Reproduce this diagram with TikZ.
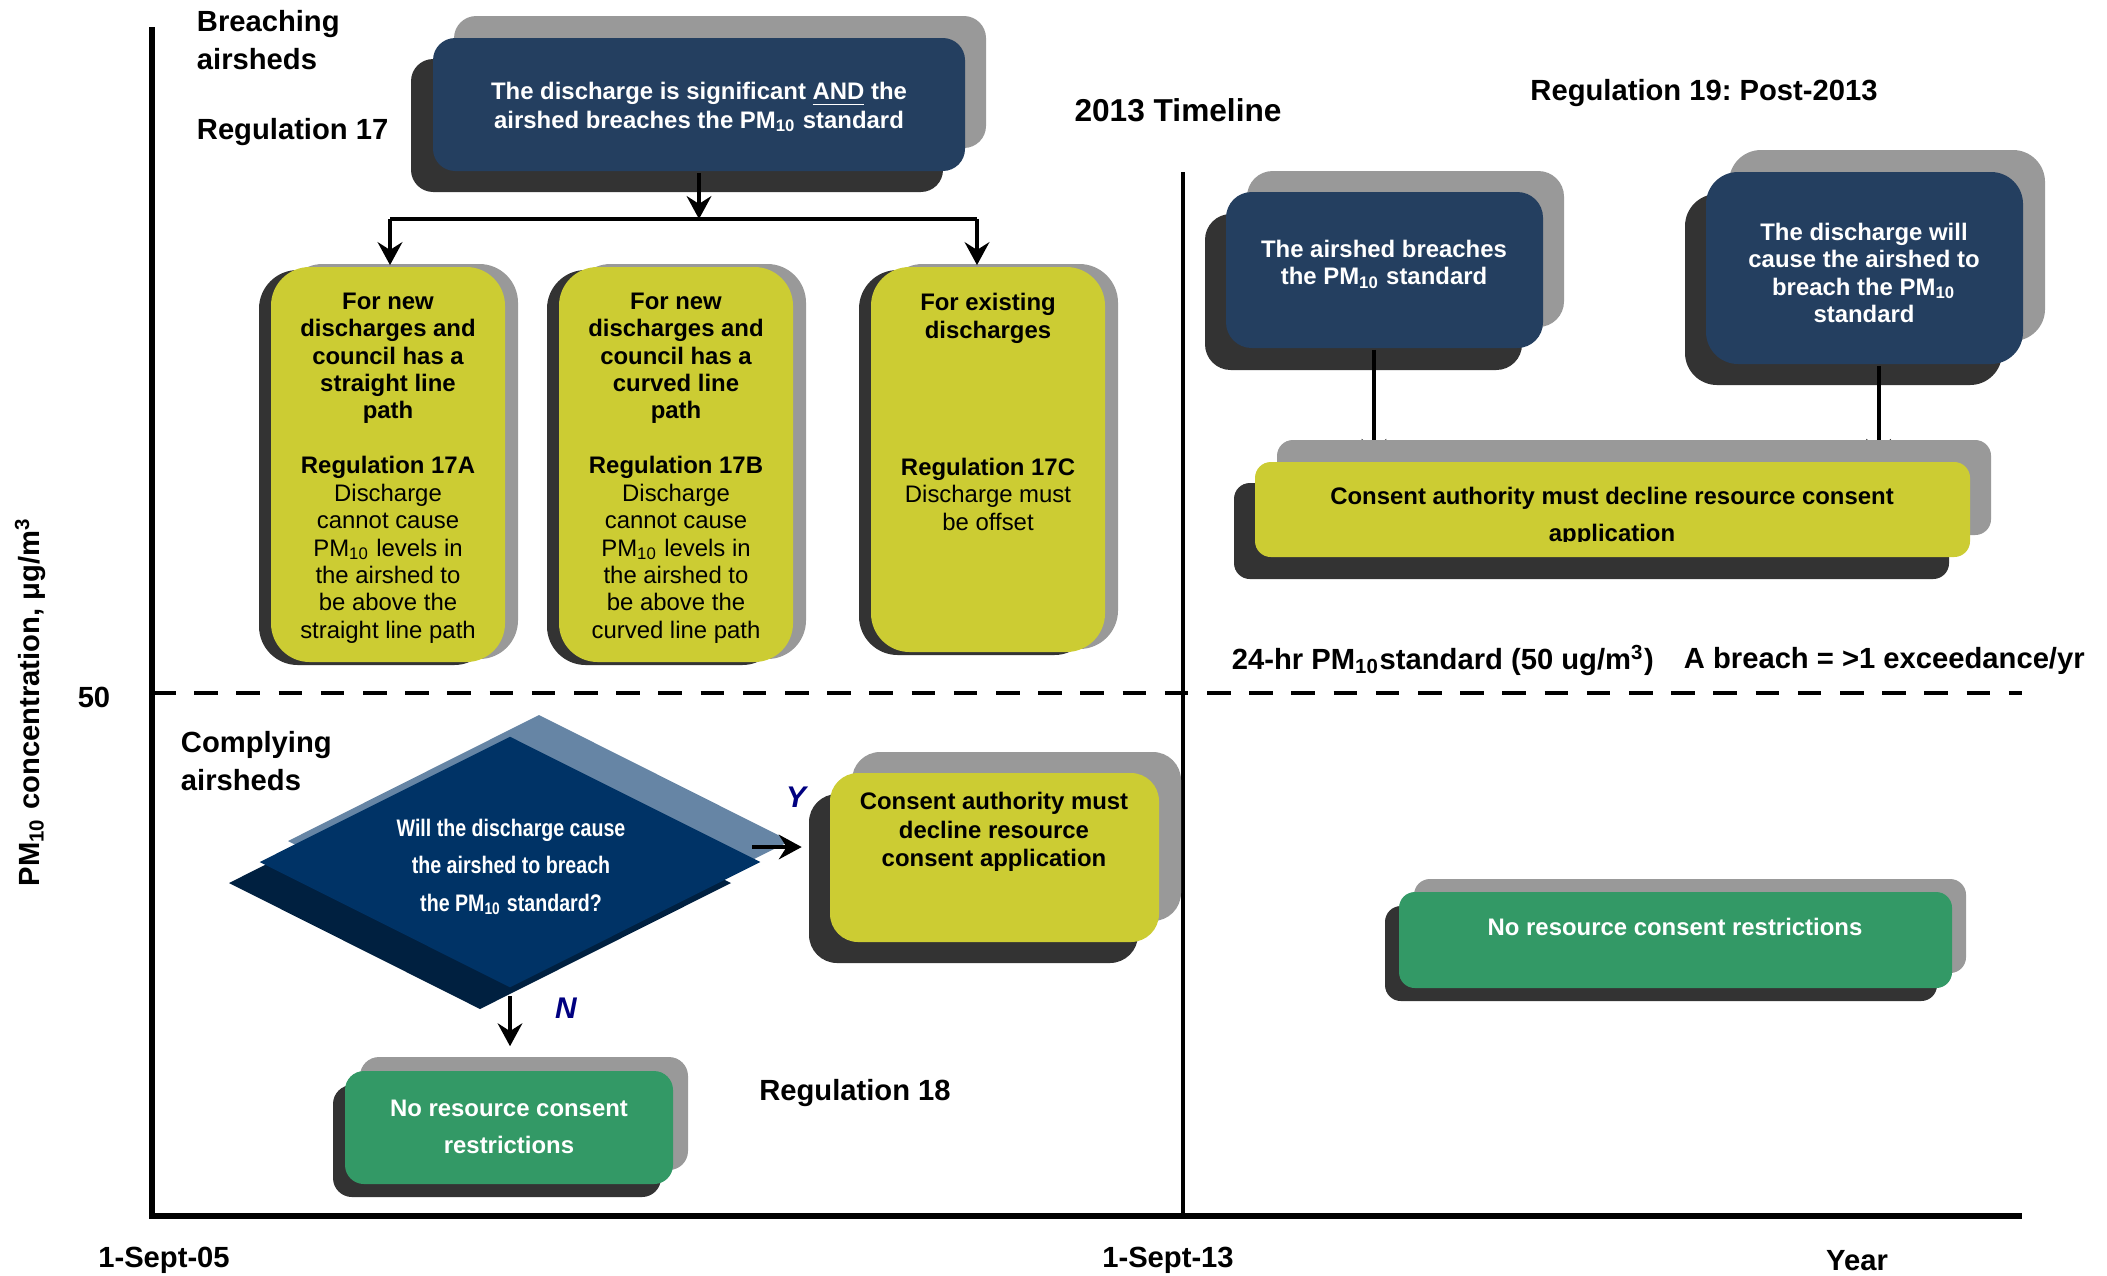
\documentclass[tikz,border=0pt]{standalone}
\usepackage{fontspec}
\setmainfont{Liberation Sans}
\newfontfamily\narrowsans[FakeStretch=0.82]{Liberation Sans}
\usetikzlibrary{arrows.meta,fit,shapes.geometric}

\definecolor{regnavy}{HTML}{243F60}
\definecolor{regyellow}{HTML}{CCCC33}
\definecolor{reggreen}{HTML}{339966}
\definecolor{shadelight}{HTML}{999999}
\definecolor{shadedark}{HTML}{333333}
\definecolor{askmain}{HTML}{003366}
\definecolor{asklight}{HTML}{6685A5}
\definecolor{askdark}{HTML}{002040}
\definecolor{ynblue}{HTML}{000080}

\newcommand{\pmten}{PM\textsubscript{10}}
\frenchspacing

\begin{document}
\begin{tikzpicture}[x=0.01cm, y=-0.01cm, line width=1.1pt,
  >={Stealth[length=6.5pt,width=7pt,inset=2.2pt]},
  lbl/.style={font=\bfseries\fontsize{8.3}{10.7}\selectfont, inner sep=0},
  txt/.style={font=\bfseries\fontsize{6.8}{7.8}\selectfont, align=center, inner sep=0},
  panel/.style={fill=#1, inner sep=0},
  yn/.style={font=\bfseries\itshape\fontsize{8.5}{10}\selectfont, text=ynblue, inner sep=0}]
\useasboundingbox (0,0) rectangle (2107,1275);

% axes
\draw[line width=1.8pt] (152,27) -- (152,1216) -- (2022,1216);
\draw[line width=1.3pt] (1183,172) -- (1183,1216);
\draw[line width=1.4pt, dash pattern=on 6.7pt off 5.3pt] (152,693) -- (2022,693);
\node[lbl] (fifty) at (94,697) {50};
\node[lbl, rotate=90] (ylab) at (30,702) {\pmten{} concentration, μg/m\textsuperscript{3}};
\node[lbl] (start) at (164,1260) {1-Sept-05};
\node[lbl] (mid) at (1168,1260) {1-Sept-13};
\node[lbl] (year) at (1857,1261) {Year};

% breaching airsheds, regulation 17
\node[lbl, align=left, anchor=west] (breaching) at (195,40) {Breaching\\airsheds};
\node[lbl, anchor=west] (reg17) at (195,132) {Regulation 17};

\fill[shadelight, rounded corners=6.3pt] (454,16) rectangle (986,148);
\fill[shadedark, rounded corners=6.3pt] (411,59) rectangle (943,192);
\node[panel=regnavy, rounded corners=6.3pt, fit={(433,38) (965,171)}] (signif) {};
\node[txt, text=white, font=\bfseries\fontsize{6.8}{8.1}\selectfont] (signiftext) at (699,107) {The discharge is significant \underline{AND} the\\airshed breaches the \pmten{} standard};

\fill[shadelight, rounded corners=11pt] (284,264) rectangle (518,659);
\fill[shadedark, rounded corners=11pt] (259,270) rectangle (493,665);
\node[panel=regyellow, rounded corners=11pt, fit={(271,267) (505,662)}] (regA) {};
\node[txt] (regAtext) at (388,468) {For new\\discharges and\\council has a\\straight line\\path\\[7.8pt]Regulation 17A\\\mdseries Discharge\\\mdseries cannot cause\\\mdseries \pmten{} levels in\\\mdseries the airshed to\\\mdseries be above the\\\mdseries straight line path};

\fill[shadelight, rounded corners=11pt] (572,264) rectangle (806,659);
\fill[shadedark, rounded corners=11pt] (547,270) rectangle (781,665);
\node[panel=regyellow, rounded corners=11pt, fit={(559,267) (793,662)}] (regB) {};
\node[txt] (regBtext) at (676,468) {For new\\discharges and\\council has a\\curved line\\path\\[7.8pt]Regulation 17B\\\mdseries Discharge\\\mdseries cannot cause\\\mdseries \pmten{} levels in\\\mdseries the airshed to\\\mdseries be above the\\\mdseries curved line path};

\fill[shadelight, rounded corners=11pt] (884,264) rectangle (1118,649);
\fill[shadedark, rounded corners=11pt] (859,270) rectangle (1093,655);
\node[panel=regyellow, rounded corners=11pt, fit={(871,267) (1105,652)}] (regC) {};
\node[txt] (regCtext) at (988,412) {For existing\\discharges\\[31.2pt]Regulation 17C\\\mdseries Discharge must\\\mdseries be offset};

\coordinate (split) at (699,219);
\coordinate (splitL) at (390,219);
\coordinate (splitR) at (977,219);
\draw[->] (signif.south) -- (split);
\draw[line width=1.3pt] (splitL) -- (splitR);
\draw[->] (splitL) -- (splitL |- regA.north);
\draw[->] (splitR) -- (splitR |- regC.north);

% complying airsheds, regulation 18
\node[lbl, align=left, anchor=west] (complying) at (179,761) {Complying\\airsheds};
\node[lbl] (reg18) at (855,1093) {Regulation 18};

\fill[asklight] (539,715) -- (790,841) -- (539,967) -- (288,841) -- cycle;
\fill[askdark] (480,757) -- (731,883) -- (480,1009) -- (229,883) -- cycle;
\node[diamond, aspect=2, fill=askmain, minimum width=142.8pt, minimum height=71.7pt, inner sep=0] (ask) at (510,862) {};
\node[text=white, align=center, inner sep=0, font=\narrowsans\bfseries\fontsize{6.8}{10.7}\selectfont] (asktext) at (511,867) {Will the discharge cause\\the airshed to breach\\the \pmten{} standard?};

\fill[shadelight, rounded corners=8pt] (852,752) rectangle (1181,921);
\fill[shadedark, rounded corners=8pt] (809,794) rectangle (1138,963);
\node[panel=regyellow, rounded corners=8pt, fit={(830,773) (1159,942)}] (decline18) {};
\node[txt, font=\bfseries\fontsize{6.8}{8.1}\selectfont] (decline18text) at (994,832) {Consent authority must\\decline resource\\consent application};

\fill[shadelight, rounded corners=5.4pt] (360,1057) rectangle (688,1170);
\fill[shadedark, rounded corners=5.4pt] (333,1085) rectangle (661,1197);
\node[panel=reggreen, rounded corners=5.4pt, fit={(345,1071) (673,1184)}] (norestrict18) {};
\node[txt, text=white, font=\bfseries\fontsize{6.8}{10.7}\selectfont] (norestrict18text) at (509,1127) {No resource consent\\restrictions};

\coordinate (yesfrom) at (752,847);
\draw[->, line width=1.3pt, shorten >=7.5pt] (yesfrom) -- (yesfrom -| decline18.west);
\draw[->, shorten <=1.7pt, shorten >=6.5pt] (ask.south) -- (ask.south |- norestrict18.north);
\node[yn] (yes) at (796,797) {Y};
\node[yn] (no) at (566,1008) {N};

% post-2013, regulation 19
\node[lbl, font=\bfseries\fontsize{9}{11}\selectfont] (timeline) at (1178,110) {2013 Timeline};
\node[lbl] (reg19) at (1704,93) {Regulation 19: Post-2013};
\node[lbl, anchor=west] (stdlabel) at (1230,660) {24-hr \pmten{}standard (50 ug/m\textsuperscript{3})};
\node[lbl, anchor=west] (breachdef) at (1682,661) {A breach = >1 exceedance/yr};

\fill[shadelight, rounded corners=7.3pt] (1247,171) rectangle (1564,327);
\fill[shadedark, rounded corners=7.3pt] (1205,214) rectangle (1522,370);
\node[panel=regnavy, rounded corners=7.3pt, fit={(1226,192) (1543,348)}] (airR) {};
\node[txt, text=white] (airRtext) at (1384,264) {The airshed breaches\\the \pmten{} standard};

\fill[shadelight, rounded corners=9.1pt] (1729,150) rectangle (2045,341);
\fill[shadedark, rounded corners=9.1pt] (1685,194) rectangle (2002,385);
\node[panel=regnavy, rounded corners=9.1pt, fit={(1706,172) (2023,364)}] (willR) {};
\node[txt, text=white] (willRtext) at (1864,273) {The discharge will\\cause the airshed to\\breach the \pmten\\standard};

% arrows run under the consent box
\coordinate (airfoot) at ([xshift=-3pt]airR.south);
\coordinate (willfoot) at ([xshift=4pt]willR.south);
\coordinate (declinetop) at (1612,462);
\draw[->] (airfoot) -- (airfoot |- declinetop);
\draw[->] (willfoot) -- (willfoot |- declinetop);

\fill[shadelight, rounded corners=4.5pt] (1277,440) rectangle (1991,535);
\fill[shadedark, rounded corners=4.5pt] (1234,483) rectangle (1949,579);
\node[panel=regyellow, rounded corners=4.5pt, fit={(1255,462) (1970,557)}] (declineR) {};
\begin{scope}
\clip (1255,462) rectangle (1970,541);
\node[txt, font=\bfseries\fontsize{6.8}{10.4}\selectfont] (declineRtext) at (1612,517) {Consent authority must decline resource consent\\application};
\end{scope}

\fill[shadelight, rounded corners=4.5pt] (1414,879) rectangle (1966,973);
\fill[shadedark, rounded corners=4.5pt] (1385,906) rectangle (1937,1001);
\node[panel=reggreen, rounded corners=4.5pt, fit={(1399,892) (1952,988)}] (norestrictR) {};
\node[txt, text=white] (norestrictRtext) at (1675,927) {No resource consent restrictions};
\end{tikzpicture}
\end{document}
